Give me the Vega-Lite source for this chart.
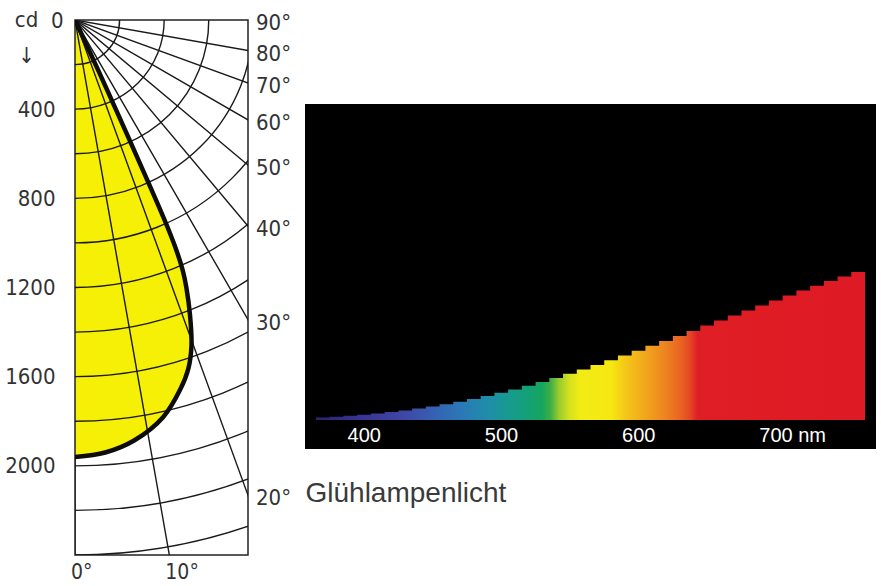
{
  "$schema": "https://vega.github.io/schema/vega-lite/v6.json",
  "width": 173,
  "height": 535,
  "autosize": "none",
  "padding": {"left": 75, "top": 20, "right": 633, "bottom": 31},
  "background": "white",
  "config": {"view": {"stroke": "#222", "strokeWidth": 1.5}, "font": "Liberation Sans"},
  "datasets": {
    "arcs": [{"cd": 200}, {"cd": 400}, {"cd": 600}, {"cd": 800}, {"cd": 1000}, {"cd": 1200}, {"cd": 1400}, {"cd": 1600}, {"cd": 1800}, {"cd": 2000}, {"cd": 2200}, {"cd": 2400}],
    "angles": [{"g": 0}, {"g": 10}, {"g": 20}, {"g": 30}, {"g": 40}, {"g": 50}, {"g": 60}, {"g": 70}, {"g": 80}, {"g": 90}],
    "curve": [
      {"g": 0, "cd": 1960}, {"g": 4, "cd": 1945}, {"g": 8, "cd": 1905}, {"g": 12.5, "cd": 1825},
      {"g": 16, "cd": 1720}, {"g": 18, "cd": 1645}, {"g": 19.7, "cd": 1550}, {"g": 21.3, "cd": 1420},
      {"g": 22.6, "cd": 1300}, {"g": 23.3, "cd": 1220}, {"g": 23.8, "cd": 1120}, {"g": 24.1, "cd": 1000},
      {"g": 24.3, "cd": 800}, {"g": 24.5, "cd": 500}, {"g": 24.8, "cd": 250}, {"g": 25.2, "cd": 0}
    ],
    "spectrum": [
      {"nm": 365, "e": 2.5}, {"nm": 375, "e": 3.3}, {"nm": 385, "e": 4.2}, {"nm": 395, "e": 5.2},
      {"nm": 405, "e": 6.5}, {"nm": 415, "e": 7.9}, {"nm": 425, "e": 9.6}, {"nm": 435, "e": 11.4},
      {"nm": 445, "e": 13.5}, {"nm": 455, "e": 15.8}, {"nm": 465, "e": 18.3}, {"nm": 475, "e": 21.0},
      {"nm": 485, "e": 24.0}, {"nm": 495, "e": 27.2}, {"nm": 505, "e": 30.6}, {"nm": 515, "e": 34.3},
      {"nm": 525, "e": 38.1}, {"nm": 535, "e": 42.1}, {"nm": 545, "e": 46.3}, {"nm": 555, "e": 50.6},
      {"nm": 565, "e": 55.1}, {"nm": 575, "e": 59.7}, {"nm": 585, "e": 64.4}, {"nm": 595, "e": 69.2},
      {"nm": 605, "e": 74.2}, {"nm": 615, "e": 79.1}, {"nm": 625, "e": 84.1}, {"nm": 635, "e": 89.1},
      {"nm": 645, "e": 94.4}, {"nm": 655, "e": 99.4}, {"nm": 665, "e": 104.5}, {"nm": 675, "e": 109.5},
      {"nm": 685, "e": 114.6}, {"nm": 695, "e": 119.6}, {"nm": 705, "e": 124.5}, {"nm": 715, "e": 129.4},
      {"nm": 725, "e": 134.2}, {"nm": 735, "e": 139.0}, {"nm": 745, "e": 143.5}, {"nm": 755, "e": 148.0},
      {"nm": 765, "e": 148.0}
    ]
  },
  "layer": [
    {
      "layer": [
        {
          "data": {"name": "curve"},
          "transform": [
            {"calculate": "datum.cd * sin(datum.g * PI / 180)", "as": "xcd"},
            {"calculate": "datum.cd * cos(datum.g * PI / 180)", "as": "ycd"}
          ],
          "mark": {"type": "area", "orient": "horizontal", "interpolate": "catmull-rom", "fill": "#f6ef06", "clip": true},
          "encoding": {
            "x": {"field": "xcd", "type": "quantitative", "scale": {"domain": [0, 776], "nice": false, "zero": false}, "axis": null},
            "x2": {"datum": 0},
            "y": {"field": "ycd", "type": "quantitative", "scale": {"domain": [0, 2400], "reverse": true, "nice": false, "zero": false},
              "axis": {
                "orient": "left", "values": [0, 400, 800, 1200, 1600, 2000], "format": "d", "ticks": false, "tickSize": 0, "domain": false, "grid": false,
                "labelPadding": {"condition": {"test": "datum.value === 0", "value": 12}, "value": 20},
                "labelFont": "Liberation Sans Narrow, DejaVu Sans Condensed, sans-serif", "labelFontSize": 22, "labelColor": "#333",
                "labelFlush": false, "labelOverlap": false,
                "title": ["cd", "↓"], "titleAngle": 0, "titleX": -49, "titleY": -11, "titleAlign": "center", "titleBaseline": "top",
                "titleFont": "Liberation Sans Narrow, DejaVu Sans Condensed, sans-serif", "titleFontSize": 22, "titleFontWeight": "normal", "titleColor": "#333", "titleLineHeight": 36
              }
            }
          }
        },
        {
          "data": {"name": "arcs"},
          "mark": {"type": "arc", "filled": false, "color": "#1a1a1a", "strokeWidth": 1.4, "clip": true},
          "encoding": {
            "x": {"datum": 0, "type": "quantitative", "scale": {"domain": [0, 776], "nice": false, "zero": false}, "axis": null},
            "y": {"datum": 0, "type": "quantitative", "scale": {"domain": [0, 2400], "reverse": true, "nice": false, "zero": false},
              "axis": {
                "orient": "left", "values": [0, 400, 800, 1200, 1600, 2000], "format": "d", "ticks": false, "tickSize": 0, "domain": false, "grid": false,
                "labelPadding": {"condition": {"test": "datum.value === 0", "value": 12}, "value": 20},
                "labelFont": "Liberation Sans Narrow, DejaVu Sans Condensed, sans-serif", "labelFontSize": 22, "labelColor": "#333",
                "labelFlush": false, "labelOverlap": false,
                "title": ["cd", "↓"], "titleAngle": 0, "titleX": -49, "titleY": -11, "titleAlign": "center", "titleBaseline": "top",
                "titleFont": "Liberation Sans Narrow, DejaVu Sans Condensed, sans-serif", "titleFontSize": 22, "titleFontWeight": "normal", "titleColor": "#333", "titleLineHeight": 36
              }
            },
            "theta": {"datum": 0, "type": "quantitative", "scale": {"type": "linear", "domain": [0, 90], "range": [3.14159265, 1.57079633]}},
            "theta2": {"datum": 90},
            "radius": {"field": "cd", "type": "quantitative", "scale": {"type": "linear", "domain": [0, 2400], "range": [0, 535], "zero": true}, "stack": null},
            "radius2": {"field": "cd"}
          }
        },
        {
          "data": {"name": "angles"},
          "transform": [{"filter": "datum.g < 90"}],
          "mark": {"type": "arc", "filled": false, "color": "#1a1a1a", "strokeWidth": 1.4, "clip": true},
          "encoding": {
            "x": {"datum": 0, "type": "quantitative", "scale": {"domain": [0, 776], "nice": false, "zero": false}, "axis": null},
            "y": {"datum": 0, "type": "quantitative", "scale": {"domain": [0, 2400], "reverse": true, "nice": false, "zero": false},
              "axis": {
                "orient": "left", "values": [0, 400, 800, 1200, 1600, 2000], "format": "d", "ticks": false, "tickSize": 0, "domain": false, "grid": false,
                "labelPadding": {"condition": {"test": "datum.value === 0", "value": 12}, "value": 20},
                "labelFont": "Liberation Sans Narrow, DejaVu Sans Condensed, sans-serif", "labelFontSize": 22, "labelColor": "#333",
                "labelFlush": false, "labelOverlap": false,
                "title": ["cd", "↓"], "titleAngle": 0, "titleX": -49, "titleY": -11, "titleAlign": "center", "titleBaseline": "top",
                "titleFont": "Liberation Sans Narrow, DejaVu Sans Condensed, sans-serif", "titleFontSize": 22, "titleFontWeight": "normal", "titleColor": "#333", "titleLineHeight": 36
              }
            },
            "theta": {"field": "g", "type": "quantitative", "scale": {"type": "linear", "domain": [0, 90], "range": [3.14159265, 1.57079633]}, "stack": null},
            "theta2": {"field": "g"},
            "radius": {"datum": 0, "type": "quantitative", "scale": {"type": "linear", "domain": [0, 2400], "range": [0, 535], "zero": true}},
            "radius2": {"datum": 3000}
          }
        },
        {
          "data": {"name": "curve"},
          "transform": [
            {"calculate": "datum.cd * sin(datum.g * PI / 180)", "as": "xcd"},
            {"calculate": "datum.cd * cos(datum.g * PI / 180)", "as": "ycd"}
          ],
          "mark": {"type": "line", "interpolate": "catmull-rom", "color": "#0d0d0d", "strokeWidth": 4.5, "clip": true},
          "encoding": {
            "x": {"field": "xcd", "type": "quantitative", "scale": {"domain": [0, 776], "nice": false, "zero": false}, "axis": null},
            "y": {"field": "ycd", "type": "quantitative", "scale": {"domain": [0, 2400], "reverse": true, "nice": false, "zero": false},
              "axis": {
                "orient": "left", "values": [0, 400, 800, 1200, 1600, 2000], "format": "d", "ticks": false, "tickSize": 0, "domain": false, "grid": false,
                "labelPadding": {"condition": {"test": "datum.value === 0", "value": 12}, "value": 20},
                "labelFont": "Liberation Sans Narrow, DejaVu Sans Condensed, sans-serif", "labelFontSize": 22, "labelColor": "#333",
                "labelFlush": false, "labelOverlap": false,
                "title": ["cd", "↓"], "titleAngle": 0, "titleX": -49, "titleY": -11, "titleAlign": "center", "titleBaseline": "top",
                "titleFont": "Liberation Sans Narrow, DejaVu Sans Condensed, sans-serif", "titleFontSize": 22, "titleFontWeight": "normal", "titleColor": "#333", "titleLineHeight": 36
              }
            },
            "order": {"field": "g", "type": "quantitative"}
          }
        },
        {
          "data": {"name": "angles"},
          "transform": [
            {"filter": "datum.g >= 20"},
            {"calculate": "776 / tan(datum.g * PI / 180)", "as": "ye"},
            {"calculate": "datum.g + '°'", "as": "lab"}
          ],
          "mark": {"type": "text", "align": "left", "baseline": "middle", "dx": 8, "dy": 3, "font": "Liberation Sans Narrow, DejaVu Sans Condensed, sans-serif", "fontSize": 22, "color": "#333"},
          "encoding": {
            "x": {"value": "width"},
            "y": {"field": "ye", "type": "quantitative", "scale": {"domain": [0, 2400], "reverse": true, "nice": false, "zero": false},
              "axis": {
                "orient": "left", "values": [0, 400, 800, 1200, 1600, 2000], "format": "d", "ticks": false, "tickSize": 0, "domain": false, "grid": false,
                "labelPadding": {"condition": {"test": "datum.value === 0", "value": 12}, "value": 20},
                "labelFont": "Liberation Sans Narrow, DejaVu Sans Condensed, sans-serif", "labelFontSize": 22, "labelColor": "#333",
                "labelFlush": false, "labelOverlap": false,
                "title": ["cd", "↓"], "titleAngle": 0, "titleX": -49, "titleY": -11, "titleAlign": "center", "titleBaseline": "top",
                "titleFont": "Liberation Sans Narrow, DejaVu Sans Condensed, sans-serif", "titleFontSize": 22, "titleFontWeight": "normal", "titleColor": "#333", "titleLineHeight": 36
              }
            },
            "text": {"field": "lab"}
          }
        },
        {
          "data": {"name": "angles"},
          "transform": [
            {"filter": "datum.g <= 10"},
            {"calculate": "2400 * tan(datum.g * PI / 180)", "as": "xe"},
            {"calculate": "datum.g + '°'", "as": "lab"}
          ],
          "mark": {"type": "text", "align": "left", "baseline": "middle", "dx": -4, "dy": 18, "font": "Liberation Sans Narrow, DejaVu Sans Condensed, sans-serif", "fontSize": 21, "color": "#333"},
          "encoding": {
            "x": {"field": "xe", "type": "quantitative", "scale": {"domain": [0, 776], "nice": false, "zero": false}, "axis": null},
            "y": {"value": "height"},
            "text": {"field": "lab"}
          }
        }
      ]
    },
    {
      "layer": [
        {
          "data": {"values": [{}]},
          "mark": {"type": "rect", "color": "#000"},
          "encoding": {
            "x": {"datum": 357, "type": "quantitative", "scale": {"domain": [357, 773], "range": [230, 801], "nice": false, "zero": false},
              "axis": {
                "orient": "bottom", "offset": -135, "values": [400, 500, 600, 700], "zindex": 1,
                "labelExpr": "datum.value == 700 ? '700 nm' : datum.label",
                "labelAlign": "left", "labelOffset": -17, "labelColor": "white", "labelFontSize": 20, "labelFont": "Liberation Sans",
                "labelPadding": 5, "ticks": false, "tickSize": 0, "domain": false, "grid": false, "labelFlush": false, "labelOverlap": false,
                "title": "Glühlampenlicht", "titleAnchor": "start", "titleAlign": "left", "titleFontSize": 28, "titleFontWeight": "normal",
                "titleColor": "#3a3a3a", "titlePadding": 34, "titleFont": "Liberation Sans"
              }
            },
            "x2": {"datum": 773},
            "y": {"datum": -29, "type": "quantitative", "scale": {"domain": [-29, 316], "range": [429, 84], "nice": false, "zero": false}, "axis": null},
            "y2": {"datum": 316}
          }
        },
        {
          "data": {"name": "spectrum"},
          "mark": {
            "type": "area", "orient": "vertical", "interpolate": "step-after",
            "fill": {
              "gradient": "linear", "x1": 0, "y1": 0, "x2": 1, "y2": 0,
              "stops": [
                {"offset": 0, "color": "#2c2373"},
                {"offset": 0.0875, "color": "#3a3494"},
                {"offset": 0.1625, "color": "#3e48a6"},
                {"offset": 0.2125, "color": "#3660b2"},
                {"offset": 0.2625, "color": "#2b78b6"},
                {"offset": 0.3125, "color": "#1f8daa"},
                {"offset": 0.35, "color": "#179a90"},
                {"offset": 0.3875, "color": "#13a174"},
                {"offset": 0.4125, "color": "#17a65c"},
                {"offset": 0.4275, "color": "#40ae44"},
                {"offset": 0.4425, "color": "#98cc2e"},
                {"offset": 0.4625, "color": "#d8e21e"},
                {"offset": 0.4825, "color": "#f3ec14"},
                {"offset": 0.5375, "color": "#f6e812"},
                {"offset": 0.5625, "color": "#f4c818"},
                {"offset": 0.6, "color": "#f1a61c"},
                {"offset": 0.6325, "color": "#ed8820"},
                {"offset": 0.6625, "color": "#e96622"},
                {"offset": 0.6825, "color": "#e54424"},
                {"offset": 0.695, "color": "#e01e25"},
                {"offset": 1, "color": "#de1a24"}
              ]
            }
          },
          "encoding": {
            "x": {"field": "nm", "type": "quantitative", "scale": {"domain": [357, 773], "range": [230, 801], "nice": false, "zero": false},
              "axis": {
                "orient": "bottom", "offset": -135, "values": [400, 500, 600, 700], "zindex": 1,
                "labelExpr": "datum.value == 700 ? '700 nm' : datum.label",
                "labelAlign": "left", "labelOffset": -17, "labelColor": "white", "labelFontSize": 20, "labelFont": "Liberation Sans",
                "labelPadding": 5, "ticks": false, "tickSize": 0, "domain": false, "grid": false, "labelFlush": false, "labelOverlap": false,
                "title": "Glühlampenlicht", "titleAnchor": "start", "titleAlign": "left", "titleFontSize": 28, "titleFontWeight": "normal",
                "titleColor": "#3a3a3a", "titlePadding": 34, "titleFont": "Liberation Sans"
              }
            },
            "y": {"field": "e", "type": "quantitative", "scale": {"domain": [-29, 316], "range": [429, 84], "nice": false, "zero": false}, "axis": null}
          }
        }
      ]
    }
  ],
  "resolve": {"scale": {"x": "independent", "y": "independent"}}
}
